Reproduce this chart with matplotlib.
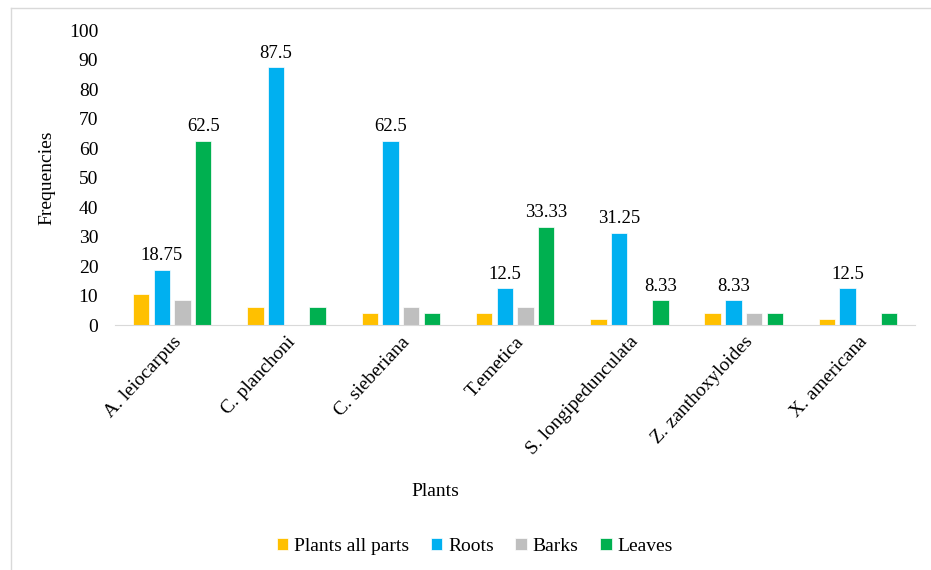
import matplotlib.pyplot as plt
import numpy as np

plants = ["A. leiocarpus", "C. planchoni", "C. sieberiana", "T.emetica",
          "S. longipedunculata", "Z. zanthoxyloides", "X. americana"]
series = ["Plants all parts", "Roots", "Barks", "Leaves"]

all_parts = [10.42, 6.25, 4.17, 4.17, 2.08, 4.17, 2.08]
roots = [18.75, 87.5, 62.5, 12.5, 31.25, 8.33, 12.5]
barks = [8.33, 0, 6.25, 6.25, 0, 4.17, 0]
leaves = [62.5, 6.25, 4.17, 33.33, 8.33, 4.17, 4.17]

# which bars carry a value label (series index, plant index)
labelled = [(1, 0), (3, 0), (1, 1), (1, 2), (1, 3), (3, 3),
            (1, 4), (3, 4), (1, 5), (1, 6)]

colors = ["#FFC000", "#00B0F0", "#BFBFBF", "#00B050"]

plt.rcParams['font.family'] = ['Liberation Serif', 'DejaVu Serif']
fs = 14

fig = plt.figure(figsize=(9.31, 5.70), dpi=100)
ax = fig.add_axes([0.1235, 0.4298, 0.8595, 0.5172])

x = np.arange(len(plants))
step = 0.181
width = 0.143
values = [all_parts, roots, barks, leaves]
for i, (name, vals) in enumerate(zip(series, values)):
    ax.bar(x + (i - 1.5) * step, vals, width, color=colors[i], label=name,
           edgecolor="white", linewidth=0.5)

for si, pi in labelled:
    v = values[si][pi]
    ax.annotate(f"{v:g}", (x[pi] + (si - 1.5) * step, v), xytext=(0, 4),
                textcoords="offset points", ha="center", va="bottom", fontsize=13.5)

ax.set_xlim(-0.5, len(plants) - 0.5)
ax.set_ylim(0, 100)
ax.set_yticks(range(0, 101, 10))
ax.set_xticks(x)
ax.set_xticklabels(plants, rotation=47, ha="right", rotation_mode="anchor", fontsize=fs)
ax.tick_params(axis="both", length=0, labelsize=fs)
ax.tick_params(axis="y", pad=12)
ax.tick_params(axis="x", pad=6)
for s in ["top", "right", "left"]:
    ax.spines[s].set_visible(False)
ax.spines["bottom"].set_color("#D9D9D9")
ax.set_ylabel("Frequencies", fontsize=fs, labelpad=10)
fig.text(0.468, 0.137, "Plants", ha="center", va="center", fontsize=fs)

ax.legend(loc="center", bbox_to_anchor=(0.51, 0.0417), bbox_transform=fig.transFigure,
          ncol=4, frameon=False, fontsize=fs, handlelength=0.6, handleheight=0.6,
          columnspacing=1.1, handletextpad=0.3)

# light frame lines at the left and top of the chart area
fig.add_artist(plt.Line2D([0.0118, 0.0118], [0, 0.986], color="#D9D9D9", lw=1,
                          transform=fig.transFigure))
fig.add_artist(plt.Line2D([0.0118, 1], [0.986, 0.986], color="#D9D9D9", lw=1,
                          transform=fig.transFigure))

fig.savefig("out.png", dpi=100)
